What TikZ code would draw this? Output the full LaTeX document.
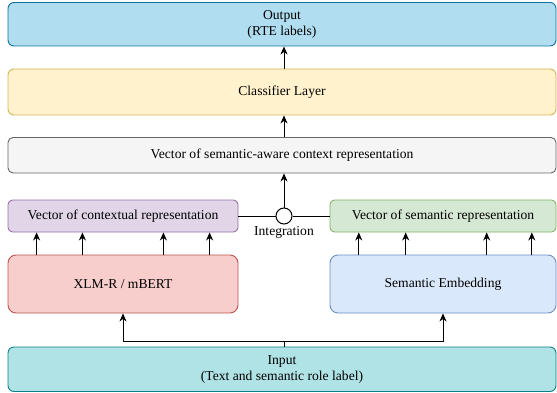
\documentclass[tikz,border=0pt]{standalone}
\usepackage{fontspec}
\setmainfont{Liberation Serif}
\usetikzlibrary{arrows.meta,calc}
\definecolor{outF}{HTML}{B1DDF0}\definecolor{outD}{HTML}{10739E}
\definecolor{clsF}{HTML}{FFF2CC}\definecolor{clsD}{HTML}{D6B656}
\definecolor{sacF}{HTML}{F5F5F5}\definecolor{sacD}{HTML}{666666}
\definecolor{ctxF}{HTML}{E1D5E7}\definecolor{ctxD}{HTML}{9673A6}
\definecolor{semF}{HTML}{D5E8D4}\definecolor{semD}{HTML}{82B366}
\definecolor{xlmF}{HTML}{F8CECC}\definecolor{xlmD}{HTML}{B85450}
\definecolor{embF}{HTML}{DAE8FC}\definecolor{embD}{HTML}{6C8EBF}
\definecolor{inpF}{HTML}{B0E3E6}\definecolor{inpD}{HTML}{0E8088}
\begin{document}
\begin{tikzpicture}[x=1pt,y=-1pt,
  box/.style={draw, line width=0.9pt, inner sep=0pt, align=center,
    font=\fontsize{13.6}{15.5}\selectfont},
  arr/.style={line width=1pt, -{Stealth[length=8pt,width=7pt,inset=2.5pt]}},
  ln/.style={line width=1pt}]
\useasboundingbox (0,0) rectangle (557,393);
\node[box, fill=outF, draw=outD, rounded corners=6pt, minimum width=548pt, minimum height=43.5pt] (out) at (282,24.25) {Output\\(RTE labels)};
\node[box, fill=clsF, draw=clsD, rounded corners=6pt, minimum width=548pt, minimum height=46pt] (cls) at (282,92) {Classifier Layer};
\node[box, fill=sacF, draw=sacD, rounded corners=5pt, minimum width=548pt, minimum height=35.5pt] (sac) at (282,155.25) {Vector of semantic-aware context representation};
\node[box, fill=ctxF, draw=ctxD, rounded corners=4.5pt, minimum width=230pt, minimum height=32pt] (ctx) at (123,216) {Vector of contextual representation};
\node[box, fill=semF, draw=semD, rounded corners=4.5pt, minimum width=226pt, minimum height=32pt] (sem) at (443,216) {Vector of semantic representation};
\node[box, fill=xlmF, draw=xlmD, rounded corners=8pt, minimum width=230pt, minimum height=58pt] (xlm) at (123,284) {XLM-R / mBERT};
\node[box, fill=embF, draw=embD, rounded corners=8pt, minimum width=226pt, minimum height=58pt] (emb) at (443,284) {Semantic Embedding};
\node[box, fill=inpF, draw=inpD, rounded corners=6pt, minimum width=548pt, minimum height=44.5pt] (inp) at (282,369.25) {Input\\(Text and semantic role label)};
\node[circle, draw, fill=white, line width=1pt, minimum size=16pt, inner sep=0pt] (integ) at (284,216) {};
\node[font=\fontsize{13.6}{15.5}\selectfont, anchor=north, inner sep=0pt] (integlbl) at (284,226) {Integration};
% top chain
\draw[arr] (cls.north -| integ) -- (out.south -| integ);
\draw[arr] (sac.north -| integ) -- (cls.south -| integ);
\draw[arr] (integ.north) -- (sac.south -| integ);
\draw[ln] (ctx.east) -- (integ.west);
\draw[ln] (integ.east) -- (sem.west);
% bottom split
\coordinate (split) at (284,341);
\draw[ln] (inp.north -| split) -- (split);
\draw[arr] (split) -| (xlm.south);
\draw[arr] (split) -| (emb.south);
% multiple arrows
\foreach \xx in {36.6,82.4,163.4,209.6}{
  \draw[arr] (xlm.north -| \xx,0) -- (ctx.south -| \xx,0);
}
\foreach \xx in {358.8,405.7,486.7,531.8}{
  \draw[arr] (emb.north -| \xx,0) -- (sem.south -| \xx,0);
}
\end{tikzpicture}
\end{document}
